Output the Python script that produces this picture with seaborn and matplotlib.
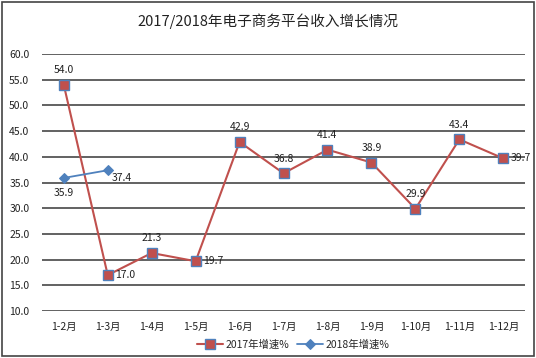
import numpy as np
import pandas as pd
import seaborn as sns
import matplotlib.pyplot as plt
from matplotlib.patches import Rectangle

months = ["1-2月", "1-3月", "1-4月", "1-5月", "1-6月", "1-7月",
          "1-8月", "1-9月", "1-10月", "1-11月", "1-12月"]
growth_2017 = [54.0, 17.0, 21.3, 19.7, 42.9, 36.8, 41.4, 38.9, 29.9, 43.4, 39.7]
growth_2018 = [35.9, 37.4]
label_pos_2017 = ["above", "right", "above", "right", "above", "above",
                  "above", "above", "above", "above", "right"]
label_pos_2018 = ["below", "belowright"]

sns.set_theme(style="white")
plt.rcParams['font.family'] = ['Noto Sans CJK SC', 'DejaVu Sans']

df17 = pd.DataFrame({"x": np.arange(len(months)), "y": growth_2017})
df18 = pd.DataFrame({"x": np.arange(len(growth_2018)), "y": growth_2018})

fig = plt.figure(figsize=(5.36, 3.58), dpi=100)
ax = fig.add_axes([0.078, 0.131, 0.902, 0.718])

red = "#C0504D"
blue = "#4F81BD"

sns.lineplot(data=df17, x="x", y="y", ax=ax, color=red, lw=1.5,
             marker="s", markersize=7, markerfacecolor=red,
             markeredgecolor=blue, markeredgewidth=1.0, label="2017年增速%")
sns.lineplot(data=df18, x="x", y="y", ax=ax, color=blue, lw=1.3,
             marker="D", markersize=5.5, markerfacecolor=blue,
             markeredgecolor=blue, label="2018年增速%")

offsets = {"above": (0, 7, "center", "bottom"),
           "right": (5, 0, "left", "center"),
           "below": (0, -7, "center", "top"),
           "belowright": (3, -2, "left", "top")}
for xs, ys, pos in [(df17.x, growth_2017, label_pos_2017),
                    (df18.x, growth_2018, label_pos_2018)]:
    for xi, yi, p in zip(xs, ys, pos):
        dx, dy, ha, va = offsets[p]
        ax.annotate(f"{yi:.1f}", (xi, yi), xytext=(dx, dy),
                    textcoords="offset points", ha=ha, va=va,
                    fontsize=7.5, color="#222222")

ax.set_xlim(-0.5, len(months) - 0.5)
ax.set_ylim(10, 60)
ax.set_yticks(np.arange(10, 61, 5))
ax.set_yticklabels([f"{v:.1f}" for v in np.arange(10, 61, 5)])
ax.set_xticks(np.arange(len(months)))
ax.set_xticklabels(months)
ax.tick_params(axis="both", labelsize=7.5, length=0, colors="#222222")
ax.tick_params(axis="x", pad=8)
ax.tick_params(axis="y", pad=9)
ax.set_xlabel("")
ax.set_ylabel("")
ax.yaxis.grid(True, color="#555555", lw=1.3)
ax.set_axisbelow(True)
for s in ax.spines.values():
    s.set_visible(False)

ax.legend(loc="upper center", bbox_to_anchor=(0.52, -0.075), ncol=2,
          frameon=False, fontsize=7.5, handlelength=2.5, columnspacing=0.8,
          handletextpad=0.2)

fig.text(0.5, 0.94, "2017/2018年电子商务平台收入增长情况", ha="center",
         va="center", fontsize=10.5, color="#222222")
fig.patches.append(Rectangle((0.004, 0.006), 0.992, 0.988, transform=fig.transFigure,
                             fill=False, ec="#444444", lw=1.2))

fig.savefig("out.png", dpi=100)
